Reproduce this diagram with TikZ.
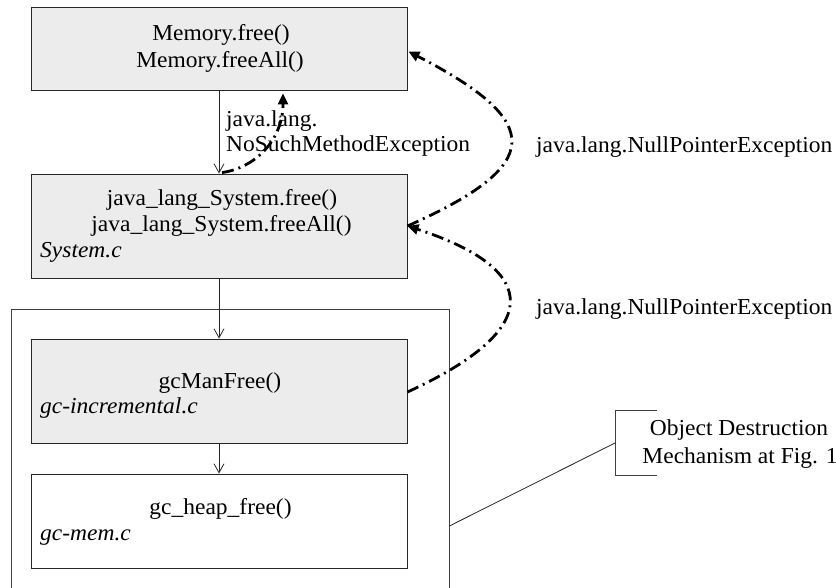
\documentclass[tikz,border=0pt]{standalone}
\usepackage{fontspec}
\setmainfont{Liberation Serif}[FakeStretch=1.03]
\usetikzlibrary{arrows.meta,calc}
\definecolor{boxgray}{HTML}{ECECEC}
\begin{document}
\begin{tikzpicture}[x=1pt,y=-1pt,
  every node/.style={font=\fontsize{22.8}{27}\selectfont},
  fbox/.style={draw=black!85,line width=0.9pt,inner sep=0pt,minimum width=376pt},
  grayfill/.style={fill=boxgray},
  txt/.style={inner sep=0pt,anchor=base},
  txtl/.style={inner sep=0pt,anchor=base west},
  flow/.style={draw=black!85,line width=0.8pt,-{Straight Barb[length=9pt,width=10pt,line width=0.8pt]}},
  exc/.style={line width=2.8pt,dash pattern=on 12pt off 5pt on 2pt off 5pt,-{Triangle[length=11pt,width=10pt]}},
  ]
\useasboundingbox (0,0) rectangle (836,588);
\clip (0,0) rectangle (836,588);
\fill[white] (0,0) rectangle (836,588);

% outer group box
\node[draw=black!75,line width=0.8pt,minimum width=438pt,minimum height=291pt,inner sep=0pt] (outer) at (230,454.5) {};

% boxes
\node[fbox,grayfill,minimum height=83pt] (box1) at (219,48.5) {};
\node[fbox,grayfill,minimum height=104pt] (box2) at (219,226) {};
\node[fbox,grayfill,minimum height=104pt] (box3) at (219,391) {};
\node[fbox,fill=white,minimum height=94pt] (box4) at (219,521) {};

% box texts
\node[txt] (t1a) at (221,41) {Memory.free()};
\node[txt] (t1b) at (220,68) {Memory.freeAll()};
\node[txt] (t2a) at (222,206) {java\_lang\_System.free()};
\node[txt] (t2b) at (221.5,232) {java\_lang\_System.freeAll()};
\node[txtl] (t2c) at (40,258) {\itshape System.c};
\node[txt] (t3a) at (220,388) {gcManFree()};
\node[txtl] (t3b) at (40,413) {\itshape gc-incremental.c};
\node[txt] (t4a) at (220.5,514) {gc\_heap\_free()};
\node[txtl] (t4b) at (40,540) {\itshape gc-mem.c};

% flow arrows
\draw[flow] (box1.south) -- (box2.north);
\draw[flow] (box2.south) -- (box3.north);
\draw[flow] (box3.south) -- (box4.north);

% exception labels
\node[txtl] (nsm1) at (226,127) {java.lang.};
\node[txtl] (nsm2) at (226,152) {NoSuchMethodException};
\node[txtl] (npe1) at (536,153) {java.lang.NullPointerException};
\node[txtl] (npe2) at (536,315) {java.lang.NullPointerException};

% exception arrows
\draw[exc] ($(box2.north)+(3,-1)$) .. controls (255,168) and (283,140) .. ($(box1.south)+(64,3)$);
\draw[exc] ($(box2.east)+(0,0)$) .. controls (545,165) and (545,122) .. ($(box1.east)+(1,3)$);
\draw[exc] ($(box3.east)+(0,1)$) .. controls (543,330) and (543,270) .. ($(box2.east)+(0,0)$);

% callout
\coordinate (cbtop) at (657,410);
\coordinate (cbbot) at (657,475);
\coordinate (cbmid) at (615,443);
\draw[black!75,line width=0.8pt] (cbtop) -- (615,410) -- (615,475) -- (cbbot);
\node[txt] (co1) at (739,435) {Object Destruction};
\node[txt] (co2) at (740,463) {Mechanism at Fig. 1};
\draw[black!85,line width=0.8pt] ($(outer.east)+(0,71.5)$) -- (cbmid);
\end{tikzpicture}
\end{document}
